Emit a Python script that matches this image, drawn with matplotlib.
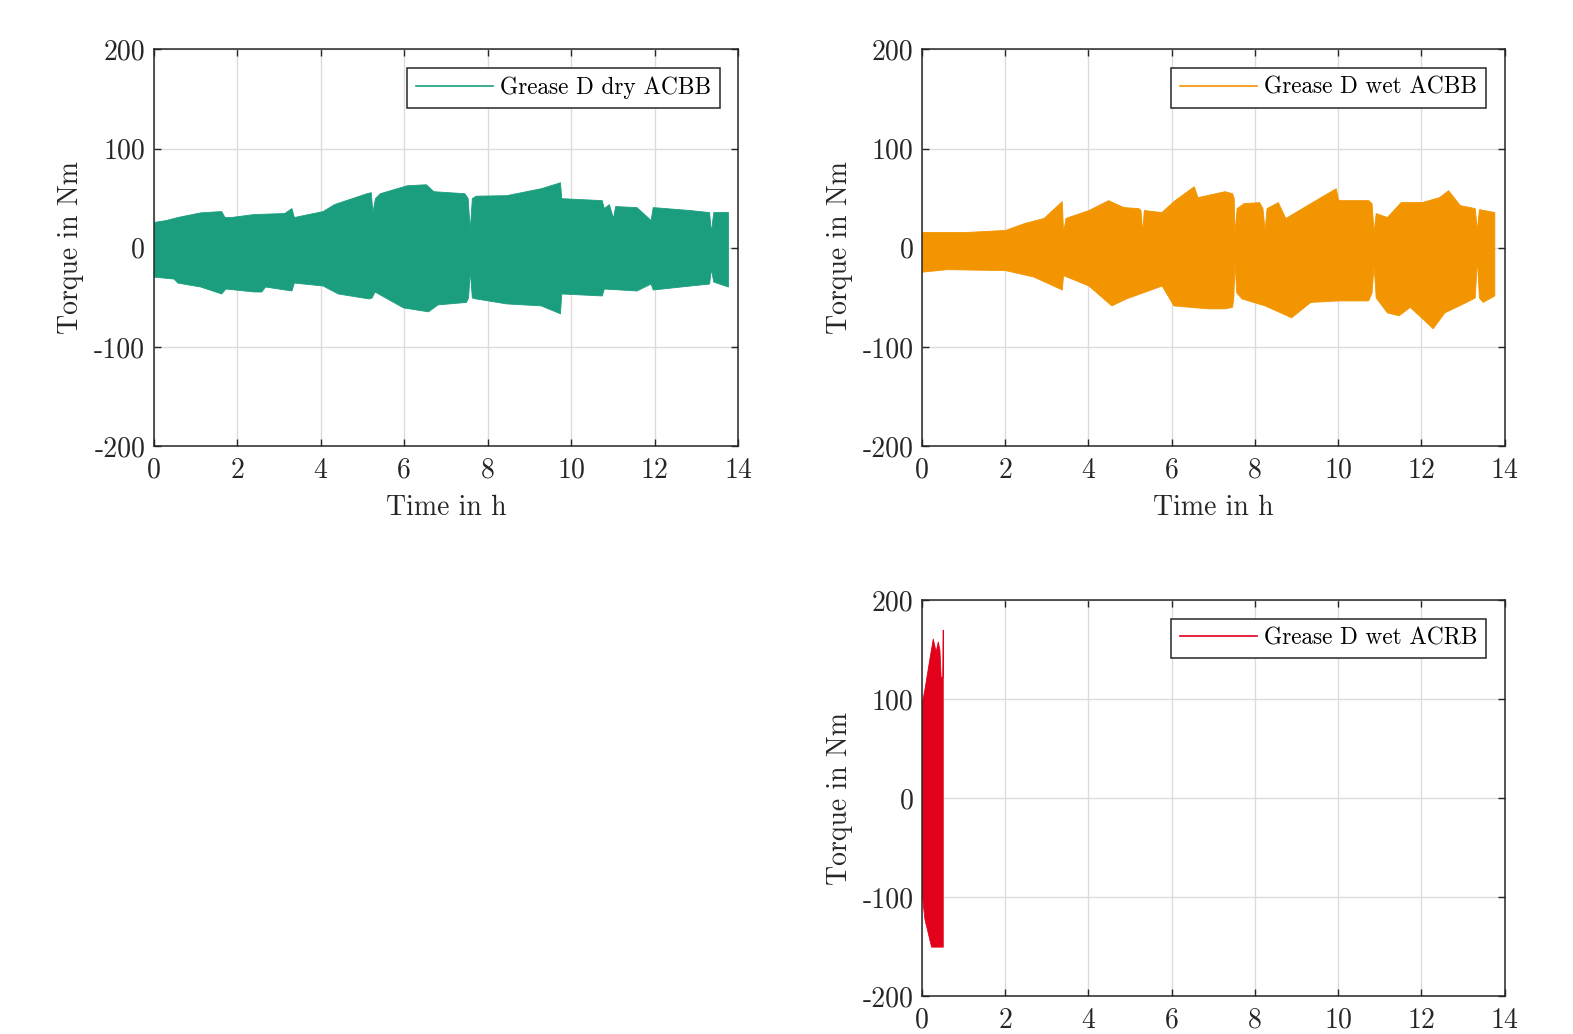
import numpy as np
import matplotlib
matplotlib.use('Agg')
import matplotlib.pyplot as plt
from matplotlib.lines import Line2D

####################################################################################

FIGURE_XSIZE = 15.73
FIGURE_YSIZE = 10.34

GREEN_RGB = '#1A9E7E'
ORANGE_RGB = '#F29500'
RED_RGB = '#E3001B'
GRID_RGB = '#DCDCDC'
AXIS_RGB = '#262626'

TICK_FONT = 20
LABEL_FONT = 20
LEGEND_FONT = 16.8

plt.rcParams['font.family'] = 'serif'
plt.rcParams['font.serif'] = ['cmr10']
plt.rcParams['mathtext.fontset'] = 'cm'
plt.rcParams['axes.unicode_minus'] = False
plt.rcParams['axes.formatter.use_mathtext'] = False

####################################################################################
# envelope of the torque signal (upper / lower)

dry_t_up = [0.0, 0.3, 0.57, 1.12, 1.62, 1.7, 1.85, 2.4, 3.13, 3.3, 3.36, 4.05, 4.32, 5.1,
            5.2, 5.24, 5.3, 5.42, 6.06, 6.52, 6.7, 7.44, 7.52, 7.57, 7.62, 7.71, 8.44,
            9.27, 9.73, 9.76, 10.73, 10.78, 10.9, 11.0, 11.05, 11.56, 11.9, 11.95,
            12.84, 13.3, 13.34, 13.4, 13.75]
dry_up = [26, 28, 31, 35.7, 37, 31, 31, 34, 35, 40, 31, 37, 44, 55,
          56, 36, 50, 55, 63, 64, 57, 55, 50, 18, 50, 52.5, 53,
          60, 66, 50, 48, 40, 44, 30, 42, 41, 28, 41,
          38, 36, 16, 36, 36]

dry_t_lo = [0.0, 0.48, 0.57, 1.12, 1.62, 1.72, 2.4, 2.58, 2.67, 3.3, 3.36, 4.05, 4.41, 5.15,
            5.22, 5.29, 5.97, 6.57, 6.8, 7.48, 7.53, 7.57, 7.62, 7.71, 8.44, 9.27, 9.73,
            9.76, 10.73, 10.78, 11.56, 11.9, 11.95, 12.84, 13.3, 13.34, 13.4, 13.75]
dry_lo = [-29, -31, -35, -39, -46, -41, -44, -44, -39, -43, -35, -38, -46, -51,
          -50, -44, -60, -64, -57, -54.5, -50, -22.5, -50, -51, -56, -58, -66,
          -46, -48, -41, -43, -36, -42, -38, -36, -21, -34, -39]

wet_t_up = [0.0, 1.08, 2.0, 2.46, 2.92, 3.36, 3.39, 3.45, 3.51, 4.0, 4.47, 4.84, 5.2, 5.25,
            5.29, 5.33, 5.75, 6.07, 6.53, 6.62, 7.27, 7.45, 7.49, 7.51, 7.56, 7.73, 8.1,
            8.18, 8.23, 8.28, 8.55, 8.73, 9.33, 9.94, 10.0, 10.72, 10.8, 10.85, 10.9,
            11.17, 11.5, 12.0, 12.42, 12.64, 12.92, 13.28, 13.33, 13.38, 13.75]
wet_up = [16, 16, 18, 25, 30, 47, 16, 30, 31, 38, 48, 41, 40, 38,
          16, 38, 36, 48, 62, 51, 57, 55, 50, 14.5, 40, 45, 46,
          40, 18, 40, 46, 30, 45, 60, 48, 48, 45, 16, 35,
          31, 46, 46, 51, 58, 43, 40, 18, 39, 36]

wet_t_lo = [0.0, 0.6, 2.0, 2.68, 3.36, 3.39, 4.0, 4.55, 4.9, 5.76, 6.04, 6.86, 7.27, 7.45,
            7.48, 7.51, 7.55, 7.68, 8.23, 8.87, 9.33, 10.0, 10.72, 10.8, 10.85, 10.9,
            11.17, 11.45, 11.72, 12.27, 12.55, 13.0, 13.28, 13.33, 13.38, 13.47, 13.75]
wet_lo = [-24, -21.5, -22.5, -29, -42, -27.5, -38, -58, -51, -38, -58, -61, -61, -59.5,
          -50, -14, -45, -51, -58, -70, -54.5, -53, -53, -45, -17.5, -50,
          -65, -68, -59.5, -81, -65, -56, -50, -11, -50, -54.5, -48]

rb_t_up = [0.0, 0.06, 0.18, 0.26, 0.33, 0.38, 0.42, 0.45, 0.49, 0.5]
rb_up = [97, 110, 141, 161, 148, 158, 150, 122, 122, 170]

rb_t_lo = [0.0, 0.06, 0.18, 0.22, 0.5]
rb_lo = [-99, -122, -143, -150, -150]

####################################################################################

def set_axis_properties(axes, with_xlabel=True):
    axes.set_xlim(0, 14)
    axes.set_ylim(-200, 200)
    axes.set_xticks(range(0, 15, 2))
    axes.set_yticks([-200, -100, 0, 100, 200])
    axes.grid(True, color=GRID_RGB, linewidth=1)
    axes.set_axisbelow(True)
    axes.tick_params(direction='in', length=5, width=1, top=True, right=True,
                     labelsize=TICK_FONT, colors=AXIS_RGB)
    axes.tick_params(axis='x', pad=8)
    axes.tick_params(axis='y', pad=6)
    for spine in axes.spines.values():
        spine.set_color(AXIS_RGB)
        spine.set_linewidth(1.1)
    axes.set_ylabel('Torque in Nm', fontsize=LABEL_FONT, color=AXIS_RGB, labelpad=7)
    if with_xlabel:
        axes.set_xlabel('Time in h', fontsize=LABEL_FONT, color=AXIS_RGB, labelpad=8)


def plot_torque(axes, t_up, up, t_lo, lo, color, label):
    t = np.union1d(t_up, t_lo)
    upper = np.interp(t, t_up, up)
    lower = np.interp(t, t_lo, lo)
    axes.fill_between(t, lower, upper, color=color, linewidth=0.6, edgecolor=color)
    handle = Line2D([], [], color=color, linewidth=1.2)
    legend = axes.legend([handle], [label], loc='upper right', fontsize=LEGEND_FONT,
                         fancybox=False, framealpha=1, edgecolor=AXIS_RGB,
                         handlelength=3.3, handletextpad=0.3, borderpad=0.38,
                         borderaxespad=0.8)
    legend.get_frame().set_linewidth(1.1)


figure = plt.figure(figsize=(FIGURE_XSIZE, FIGURE_YSIZE), dpi=100, facecolor='white')

ax_dry = figure.add_axes([0.0976, 0.5683, 0.3718, 0.3841])
ax_wet = figure.add_axes([0.5861, 0.5683, 0.3705, 0.3841])
ax_rb = figure.add_axes([0.5861, 0.0366, 0.3705, 0.3832])

set_axis_properties(ax_dry)
set_axis_properties(ax_wet)
set_axis_properties(ax_rb, with_xlabel=False)

plot_torque(ax_dry, dry_t_up, dry_up, dry_t_lo, dry_lo, GREEN_RGB, 'Grease D dry ACBB')
plot_torque(ax_wet, wet_t_up, wet_up, wet_t_lo, wet_lo, ORANGE_RGB, 'Grease D wet ACBB')
plot_torque(ax_rb, rb_t_up, rb_up, rb_t_lo, rb_lo, RED_RGB, 'Grease D wet ACRB')

plt.savefig('out.png', dpi=100)
